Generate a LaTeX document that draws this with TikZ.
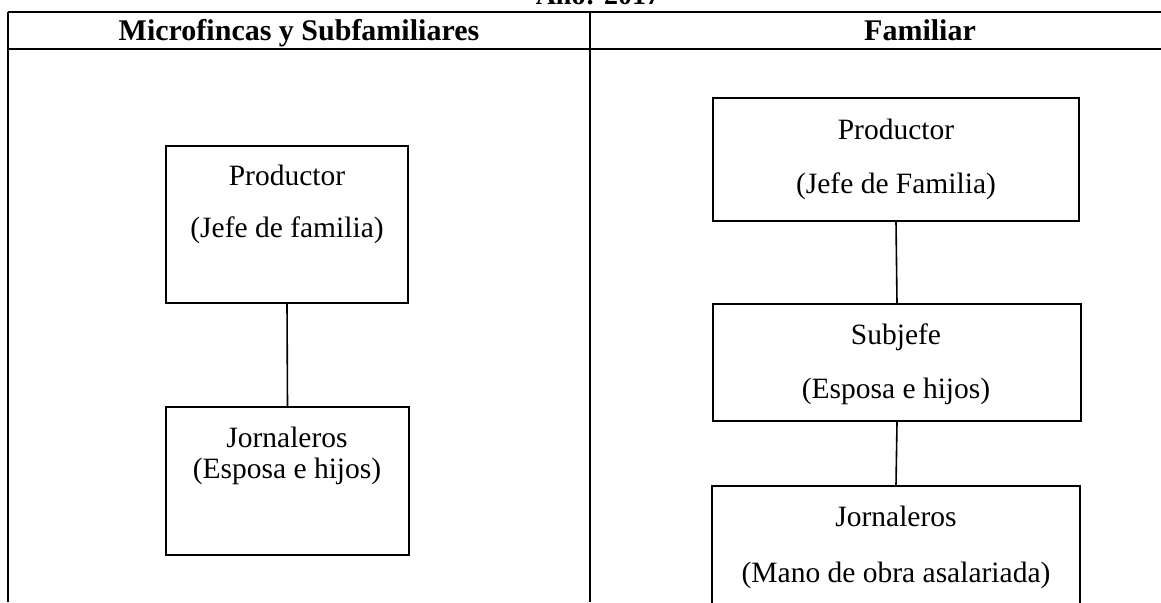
\documentclass[tikz,border=0pt]{standalone}
\usepackage{fontspec}
\setmainfont{Liberation Serif}
\begin{document}
\begin{tikzpicture}[x=1pt,y=-1pt,
  rule/.style={line width=1.6pt,black},
  boxed/.style={draw,line width=2pt,rectangle,inner sep=0pt},
  link/.style={line width=1.6pt},
  body/.style={font=\fontsize{29.5}{32}\selectfont,anchor=base,inner sep=0pt},
  head/.style={font=\fontsize{30}{32}\selectfont\bfseries,anchor=base,inner sep=0pt}]
\useasboundingbox (0,0) rectangle (1161,602);
\clip (0,0) rectangle (1161,602);
\fill[white] (0,0) rectangle (1161,602);
% title (cut off at top)
\node[head,font=\fontsize{28}{30}\selectfont\bfseries] (title) at (598,5) {Año: 2017};
% table
\draw[rule] (8,12) -- (1161,12);
\draw[rule] (8,49) -- (1161,49);
\draw[rule] (8,12) -- (8,602);
\draw[rule] (590,12) -- (590,602);
\node[head] (h1) at (299,41) {Microfincas y Subfamiliares};
\node[head] (h2) at (920,41) {Familiar};
% left column boxes
\node[boxed,minimum width=242pt,minimum height=157pt] (lp) at (287,224.5) {};
\node[boxed,minimum width=243pt,minimum height=148pt] (lj) at (287.5,481) {};
\node[body] (lpt1) at (287,185) {Productor};
\node[body] (lpt2) at (287,237) {(Jefe de familia)};
\node[body] (ljt1) at (287,447) {Jornaleros};
\node[body] (ljt2) at (287,478) {(Esposa e hijos)};
\draw[link] (lp.south) -- (lj.north);
% right column boxes
\node[boxed,minimum width=366pt,minimum height=123pt] (rp) at (896,159.5) {};
\node[boxed,minimum width=368pt,minimum height=117pt] (rs) at (897,362.5) {};
\node[boxed,minimum width=368pt,minimum height=160pt] (rj) at (896,566) {};
\node[body] (rpt1) at (896,139) {Productor};
\node[body] (rpt2) at (896,193) {(Jefe de Familia)};
\node[body] (rst1) at (896,344) {Subjefe};
\node[body] (rst2) at (896,398) {(Esposa e hijos)};
\node[body] (rjt1) at (896,526) {Jornaleros};
\node[body] (rjt2) at (896,582) {(Mano de obra asalariada)};
\draw[link] (rp.south) -- (rs.north);
\draw[link] (rs.south) -- (rj.north);
\end{tikzpicture}
\end{document}
